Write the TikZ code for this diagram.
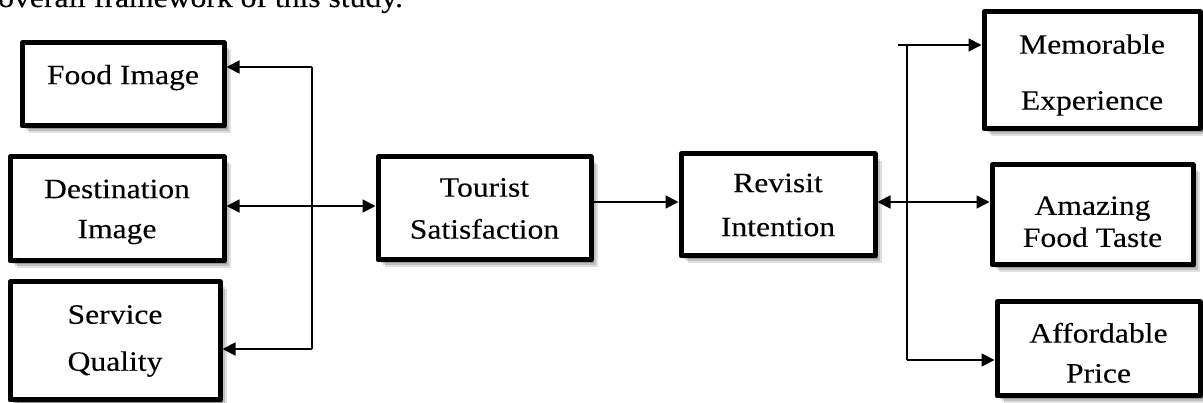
\documentclass[tikz,border=0pt]{standalone}
\usepackage{fontspec}
\setmainfont[FakeStretch=1.13,FakeBold=0.2]{Liberation Serif}
\usetikzlibrary{arrows.meta,shadows}
\begin{document}
\begin{tikzpicture}[x=1pt,y=-1pt,
  box/.style={draw, line width=5pt, line join=round, fill=white, inner sep=0pt, align=center,
    font=\fontsize{28}{41}\selectfont,
    drop shadow={shadow xshift=7pt, shadow yshift=-7pt, opacity=0.12, fill=black},
    drop shadow={shadow xshift=5pt, shadow yshift=-5pt, opacity=0.15, fill=black},
    drop shadow={shadow xshift=3pt, shadow yshift=-3pt, opacity=0.2, fill=black}},
  conn/.style={line width=1.8pt},
  tip/.tip={Triangle[length=13pt,width=13pt]},
  arr/.style={conn, -tip},
  darr/.style={conn, tip-tip}]
\useasboundingbox (0,0) rectangle (1203,403);
\clip (0,0) rectangle (1203,403);
\node[anchor=base west, font=\fontsize{28}{41}\selectfont, inner sep=0pt] (cap) at (-2,7) {overall framework of this study.};

% left boxes
\node[box, minimum width=202pt, minimum height=83pt] (FI) at (123,84.5) {Food Image\rule[-20pt]{0pt}{20pt}};
\node[box, minimum width=214pt, minimum height=104pt] (DI) at (117,209) {\rule{0pt}{24.4pt}Destination\\[-1pt]Image};
\node[box, minimum width=210pt, minimum height=118pt] (SQ) at (115,341) {Service\\[6pt]Quality};
% middle
\node[box, minimum width=213pt, minimum height=103pt] (TS) at (484.5,208.5) {Tourist\\[1pt]Satisfaction};
\node[box, minimum width=194pt, minimum height=102pt] (RI) at (778,205) {Revisit\\[3pt]Intention};
% right boxes
\node[box, minimum width=216pt, minimum height=117pt] (ME) at (1092,70.5) {\rule{0pt}{28.4pt}Memorable\\[15pt]Experience};
\node[box, minimum width=201pt, minimum height=100pt] (AF) at (1092.5,215) {\rule{0pt}{32pt}Amazing\\[-9pt]Food Taste};
\node[box, minimum width=203pt, minimum height=94pt] (AP) at (1098.5,349) {\rule{0pt}{27.4pt}Affordable\\[-1pt]Price};

% left bus
\coordinate (lt) at (312,67);
\coordinate (lm) at (312,206);
\coordinate (lb) at (312,349);
\draw[conn] (lt) -- (lb);
\draw[arr] (lt) -- (lt -| FI.east);
\draw[arr] (lb) -- (lb -| SQ.east);
\draw[darr] (lm -| DI.east) -- (lm -| TS.west);

% middle
\coordinate (my) at (640,202);
\draw[arr] (my -| TS.east) -- (my -| RI.west);

% right bus
\coordinate (rs) at (898,45);
\coordinate (rt) at (907,45);
\coordinate (rm) at (907,202);
\coordinate (rb) at (907,360);
\draw[conn] (rt) -- (rb);
\draw[arr] (rs) -- (rs -| ME.west);
\draw[arr] (rb) -- (rb -| AP.west);
\draw[darr] (rm -| RI.east) -- (rm -| AF.west);
\end{tikzpicture}
\end{document}
